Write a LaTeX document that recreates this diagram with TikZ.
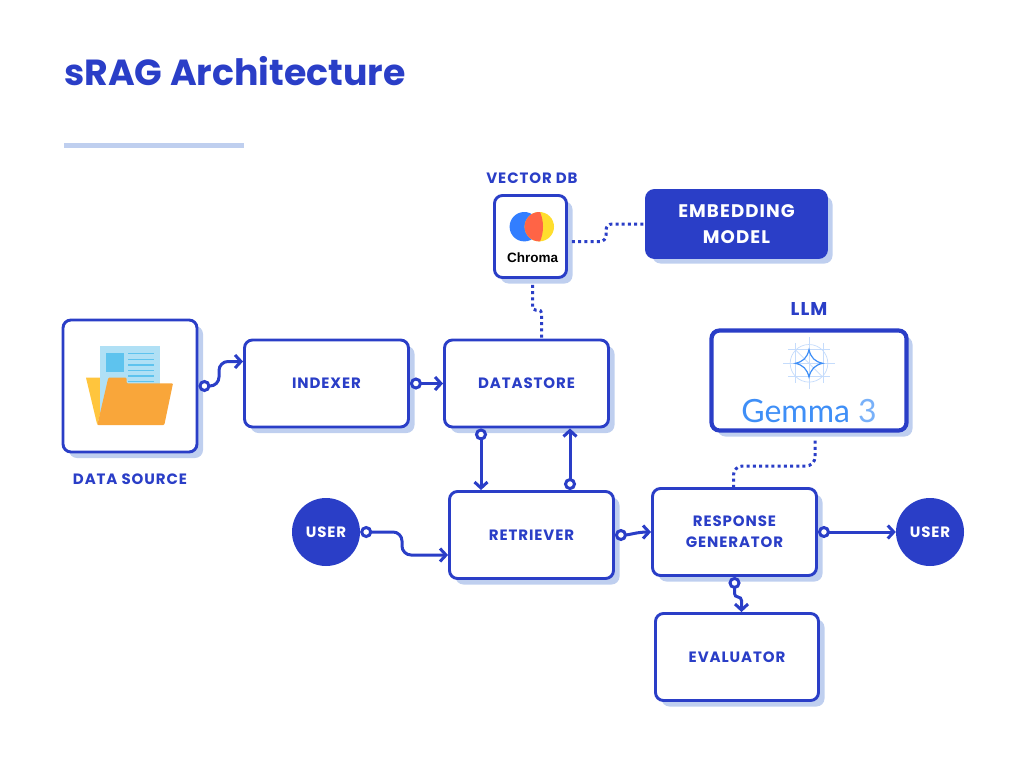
\documentclass[tikz,border=0pt]{standalone}
\usepackage{fontspec}
\setmainfont{Poppins}
\newfontfamily\capsfont{Poppins}[LetterSpace=6]
\newfontfamily\chromafont{Liberation Sans}
\newfontfamily\gemmafont{Lato}
\usepackage{xcolor}
\usetikzlibrary{arrows.meta, shadows}
\definecolor{ragblue}{HTML}{2A3EC7}
\definecolor{ragshade}{HTML}{BFCFEF}
\definecolor{gemblue}{HTML}{3F8FF7}
\definecolor{gemline}{HTML}{C5DCFC}
\definecolor{folderfront}{HTML}{F9A63A}
\definecolor{folderback}{HTML}{FFC53D}
\definecolor{paper}{HTML}{B0E0F5}
\definecolor{paperink}{HTML}{5EC3EE}
\definecolor{chromablue}{HTML}{327EFF}
\definecolor{chromared}{HTML}{FF6446}
\definecolor{chromayellow}{HTML}{FFDE2D}
\tikzset{
  box/.style={draw=ragblue, line width=2.9pt, fill=white, rounded corners=8pt, inner sep=0pt,
    align=center, text=ragblue, font=\fontsize{15}{21}\selectfont\capsfont\bfseries,
    drop shadow={shadow xshift=6pt, shadow yshift=-6pt, fill=ragshade, opacity=1}},
  usernode/.style={circle, fill=ragblue, minimum size=68pt, inner sep=0pt, text=white,
    font=\fontsize{15}{17}\selectfont\capsfont\bfseries},
  caption/.style={text=ragblue, inner sep=0pt, font=\fontsize{15}{17}\selectfont\capsfont\bfseries},
  link/.style={draw=ragblue, line width=3pt, rounded corners=9pt,
    {Circle[open, fill=white, length=12pt, width=12pt]}-{Straight Barb[length=6pt, width=13pt]}},
  dotlink/.style={draw=ragblue, line width=3pt, rounded corners=6pt, dash pattern=on 3pt off 3.2pt},
}
\begin{document}
\begin{tikzpicture}[x=1pt, y=-1pt]
  \useasboundingbox (0,0) rectangle (1024,768);
  % Title
  \node[anchor=west, inner sep=0pt, text=ragblue, font=\fontsize{36.3}{40}\selectfont\bfseries] (title) at (64,71) {sRAG Architecture};
  \fill[ragshade] (64,143) rectangle (244,147.5);
  % Boxes
  \node[box, minimum width=134pt, minimum height=132pt] (datasource) at (130,386) {};
  \node[box, minimum width=164pt, minimum height=87pt] (indexer) at (326.5,383.5) {INDEXER};
  \node[box, minimum width=164pt, minimum height=87pt] (datastore) at (526.5,383.5) {DATASTORE};
  \node[box, minimum width=164pt, minimum height=87pt] (retriever) at (531.5,535) {RETRIEVER};
  \node[box, minimum width=164pt, minimum height=87pt] (response) at (734.5,532) {RESPONSE\\GENERATOR};
  \node[box, minimum width=163pt, minimum height=87pt] (evaluator) at (737,657) {EVALUATOR};
  \node[box, minimum width=72pt, minimum height=82pt] (chroma) at (530.5,236.5) {};
  \node[box, line width=4.2pt, minimum width=195pt, minimum height=100pt] (llm) at (809,380.5) {};
  \node[box, fill=ragblue, text=white, minimum width=180pt, minimum height=67pt,
    font=\fontsize{18.2}{26}\selectfont\capsfont\bfseries] (embedding) at (736.5,224) {EMBEDDING\\MODEL};
  \node[usernode] (userin) at (326,532) {USER};
  \node[usernode] (userout) at (930,532) {USER};
  % Captions
  \node[caption] (sourcecap) at (130,479) {DATA SOURCE};
  \node[caption] (vectorcap) at (532,178) {VECTOR DB};
  \node[caption, font=\fontsize{18.5}{21}\selectfont\capsfont\bfseries] (llmcap) at (809,309) {LLM};
  % Folder
  \fill[folderback] (86,377.7) -- (101,377.7) -- (101,410) -- (97.3,425) -- cycle;
  \fill[paper] (100,346) rectangle (160,412);
  \fill[paperink] (106,352.7) rectangle (123.7,371.7);
  \foreach \y in {353.7,359.3,365,370.3,376,381.7}
    \draw[paperink, line width=1.4pt] (128,\y) -- (154,\y);
  \fill[folderfront, rounded corners=1pt] (108.3,377.7) -- (126.7,377.7) -- (126.7,383.3) -- (173,383.3) -- (164.3,425) -- (97.3,425) -- cycle;
  % Chroma logo
  \fill[chromablue] (524.3,226.7) circle (14.7);
  \fill[chromayellow] (539.3,226.7) circle (14.7);
  \begin{scope}
    \clip (505,226.7) circle (38);
    \fill[chromared] (539.3,226.7) circle (14.7);
  \end{scope}
  \node[inner sep=0pt, font=\fontsize{13.5}{16}\selectfont\chromafont\bfseries] (chromatext) at (532.5,258) {Chroma};
  % Gemma logo
  \foreach \v in {-14,14}
    \draw[gemline, line width=0.7pt] (809+\v,343.3) -- (809+\v,383.3);
  \foreach \v in {-13.5,13.5}
    \draw[gemline, line width=0.7pt] (788,363.3+\v) -- (830,363.3+\v);
  \draw[gemline, line width=0.7pt] (809,337.3) -- (809,389.3) (783,363.3) -- (835,363.3);
  \draw[gemline, line width=0.7pt] (795.7,350) -- (822.3,376.6);
  \draw[gemline, line width=0.7pt] (809,363.3) circle (18.8);
  \draw[gemblue, line width=1.2pt] (809,349.7) .. controls (811,358) and (815,361.6) .. (822.6,363.3)
    .. controls (815,365) and (811,369) .. (809,377)
    .. controls (807,369) and (803,365) .. (795.4,363.3)
    .. controls (803,361.6) and (807,358) .. (809,349.7) -- cycle;
  \node[inner sep=0pt, text=gemblue, font=\fontsize{32}{36}\selectfont\gemmafont] (gemmatext) at (809,411) {Gemma \textcolor{gemblue!70!white}{3}};
  % Connectors
  \coordinate (storedown) at ([xshift=-45.5pt]datastore.south);
  \coordinate (storeup) at ([xshift=38.5pt]retriever.north);
  \coordinate (sourcebend) at (219,361.5);
  \coordinate (userbend) at (402,555);
  \coordinate (answerbend) at (741.5,597);
  \draw[link] (datasource.east) -| (sourcebend) -- ([yshift=22pt]indexer.west);
  \draw[link] (indexer.east) -- (datastore.west);
  \draw[link] (storedown) -- (storedown |- retriever.north);
  \draw[link] (storeup) -- (storeup |- datastore.south);
  \draw[link] (userin.east) -| (userbend) -- ([yshift=-20pt]retriever.west);
  \draw[link] (retriever.east) to[out=0, in=180] (response.west);
  \draw[link] (response.east) -- (userout.west);
  \draw[link, rounded corners=3.5pt] (response.south) |- (answerbend) -- ([xshift=4.5pt]evaluator.north);
  % Dotted links
  \coordinate (chromabend) at (606,224);
  \coordinate (storebend) at (541.5,310);
  \coordinate (gemmabend) at (733.5,466);
  \draw[dotlink] ([shift={(4pt,-5pt)}]chroma.east) -| (chromabend) -- (embedding.west);
  \draw[dotlink, rounded corners=3pt] ([shift={(2pt,-6pt)}]chroma.south) |- (storebend) -- ([xshift=15pt]datastore.north);
  \draw[dotlink, rounded corners=9pt] ([shift={(6pt,-8pt)}]llm.south) |- (gemmabend) -- ([xshift=-1pt]response.north);
\end{tikzpicture}
\end{document}
